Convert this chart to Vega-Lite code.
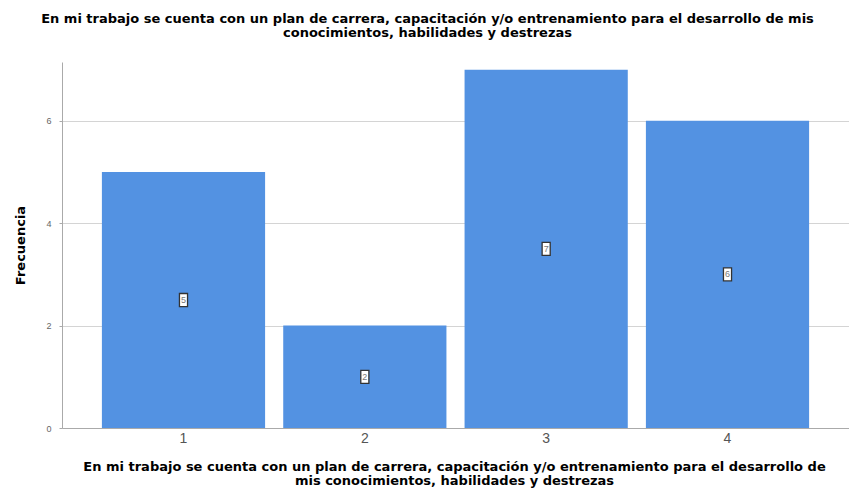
{
  "$schema": "https://vega.github.io/schema/vega-lite/v6.json",
  "autosize": "none",
  "width": 787,
  "height": 366,
  "padding": {"left": 62, "top": 62, "right": 0, "bottom": 72},
  "background": "white",
  "data": {"values": [
    {"cat": "1", "freq": 5},
    {"cat": "2", "freq": 2},
    {"cat": "3", "freq": 7},
    {"cat": "4", "freq": 6}
  ]},
  "title": {
    "text": ["En mi trabajo se cuenta con un plan de carrera, capacitación y/o entrenamiento para el desarrollo de mis", "conocimientos, habilidades y destrezas"],
    "font": "DejaVu Sans",
    "fontSize": 13,
    "fontWeight": "bold",
    "color": "#000000",
    "lineHeight": 14,
    "anchor": "middle",
    "dx": -28,
    "offset": 22
  },
  "config": {
    "view": {"stroke": null},
    "font": "Liberation Sans"
  },
  "resolve": {"scale": {"y": "independent"}},
  "encoding": {
    "x": {
      "field": "cat", "type": "ordinal",
      "scale": {"paddingInner": 0.1, "paddingOuter": 0.22},
      "axis": {
        "title": ["En mi trabajo se cuenta con un plan de carrera, capacitación y/o entrenamiento para el desarrollo de", "mis conocimientos, habilidades y destrezas"],
        "titleFont": "DejaVu Sans",
        "titleFontSize": 13,
        "titleFontWeight": "bold",
        "titleColor": "#000000",
        "titleLineHeight": 14,
        "titlePadding": 15,
        "titleX": 392,
        "labelAngle": 0,
        "labelFontSize": 14,
        "labelColor": "#555555",
        "labelPadding": 3,
        "ticks": false,
        "domainColor": "#aaaaaa",
        "grid": false
      }
    }
  },
  "layer": [
    {
      "mark": {"type": "bar", "color": "#5392e2"},
      "encoding": {
        "y": {
          "field": "freq", "type": "quantitative",
          "scale": {"domain": [0, 7.15], "nice": false},
          "axis": {
            "values": [0, 2, 4, 6],
            "title": "Frecuencia",
            "titleFont": "DejaVu Sans",
            "titleFontSize": 13,
            "titleFontWeight": "bold",
            "titleColor": "#000000",
            "titlePadding": 18,
            "labelFontSize": 9,
            "labelColor": "#666666",
            "labelPadding": 8,
            "tickSize": 3,
            "tickColor": "#aaaaaa",
            "domainColor": "#aaaaaa",
            "grid": true,
            "gridColor": "#d4d4d4"
          }
        }
      }
    },
    {
      "encoding": {
        "y": {"field": "freq", "type": "quantitative", "scale": {"domain": [0, 14.3], "nice": false}, "axis": null}
      },
      "layer": [
        {
          "mark": {"type": "point", "shape": "M-0.62,-1L0.62,-1L0.62,1L-0.62,1Z", "size": 170, "filled": true, "fill": "white", "stroke": "#333333", "strokeWidth": 1.3, "opacity": 1}
        },
        {
          "mark": {"type": "text", "fontSize": 9, "color": "#777777"},
          "encoding": {"text": {"field": "freq"}}
        }
      ]
    }
  ]
}
